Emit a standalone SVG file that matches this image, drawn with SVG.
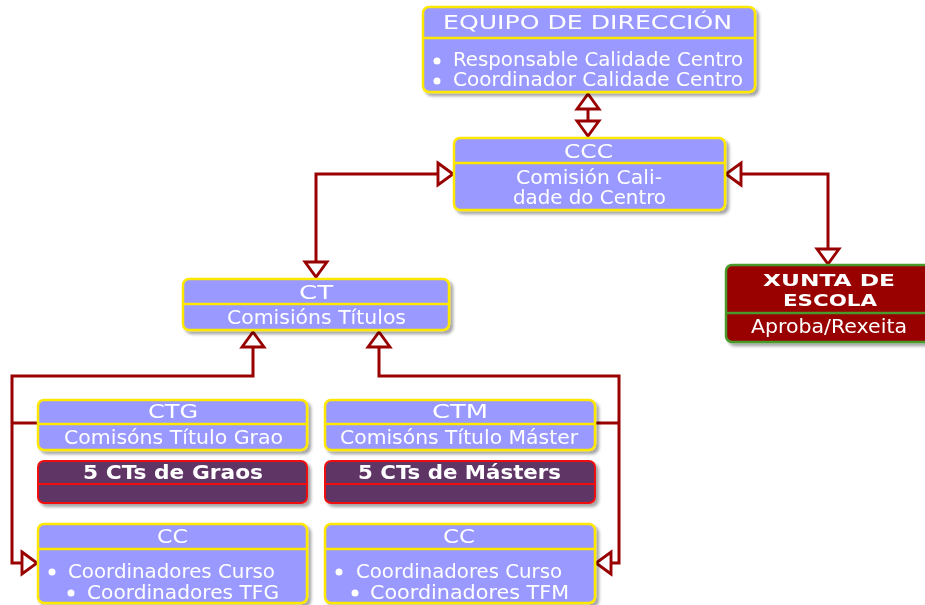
<svg xmlns="http://www.w3.org/2000/svg" width="925" height="605" viewBox="0 0 925 605">
<defs>
<style>
.bb{fill:#9999FF;stroke:#FFE800;stroke-width:2.5}
.pb{fill:#5E3466;stroke:#F01010;stroke-width:2}
.xb{fill:#990000;stroke:#4A9A2C;stroke-width:2.5}
.dy{stroke:#FFE800;stroke-width:2.5}
.dr{stroke:#F01010;stroke-width:2}
.dg{stroke:#4A9A2C;stroke-width:2.5}
text{font-family:"DejaVu Sans","Liberation Sans",sans-serif;font-size:19px;fill:#FFFFFF}
.b{font-weight:bold}
.xt{font-size:16.5px}
.bul{fill:#FFFFFF}
.con{fill:none;stroke:#990000;stroke-width:3}
</style>
<filter id="sh" x="-5%" y="-10%" width="115%" height="130%">
<feDropShadow dx="3" dy="3" stdDeviation="1.5" flood-color="#000" flood-opacity="0.35"/>
</filter>
<marker id="ah" markerUnits="userSpaceOnUse" markerWidth="30" markerHeight="30" viewBox="-3 -13 19 26" refX="13" refY="0" orient="auto-start-reverse">
<path d="M0,-9.5 L13,0 L0,9.5 Z" fill="#FFFFFF" stroke="#990000" stroke-width="2.5"/>
</marker>
</defs>

<g id="connectors">
<path class="con" d="M588,94 L588,136" marker-start="url(#ah)" marker-end="url(#ah)"/>
<path class="con" d="M453,174 L316,174 L316,277" marker-start="url(#ah)" marker-end="url(#ah)"/>
<path class="con" d="M726,174 L828,174 L828,264" marker-start="url(#ah)" marker-end="url(#ah)"/>
<path class="con" d="M253,332 L253,376 L12,376 L12,563 L37,563" marker-start="url(#ah)" marker-end="url(#ah)"/>
<path class="con" d="M12,423 L38,423"/>
<path class="con" d="M379,332 L379,376 L619,376 L619,563 L596,563" marker-start="url(#ah)" marker-end="url(#ah)"/>
<path class="con" d="M619,423 L595,423"/>
</g>

<g id="equipo" filter="url(#sh)">
<rect class="bb" x="423" y="7" width="332" height="85" rx="6"/>
<line class="dy" x1="423" y1="38" x2="755" y2="38"/>
<text x="443" y="29" textLength="289" lengthAdjust="spacingAndGlyphs">EQUIPO DE DIRECCIÓN</text>
<circle class="bul" cx="437" cy="61" r="3.5"/>
<text x="453" y="66" textLength="290" lengthAdjust="spacingAndGlyphs">Responsable Calidade Centro</text>
<circle class="bul" cx="437" cy="81" r="3.5"/>
<text x="453" y="86" textLength="290" lengthAdjust="spacingAndGlyphs">Coordinador Calidade Centro</text>
</g>

<g id="ccc" filter="url(#sh)">
<rect class="bb" x="454" y="138" width="271" height="72" rx="6"/>
<line class="dy" x1="454" y1="163" x2="725" y2="163"/>
<text x="564" y="158" textLength="49" lengthAdjust="spacingAndGlyphs">CCC</text>
<text x="516" y="184" textLength="146" lengthAdjust="spacingAndGlyphs">Comisión Cali-</text>
<text x="513" y="204" textLength="153" lengthAdjust="spacingAndGlyphs">dade do Centro</text>
</g>

<g id="ct" filter="url(#sh)">
<rect class="bb" x="183" y="279" width="266" height="51" rx="6"/>
<line class="dy" x1="183" y1="304" x2="449" y2="304"/>
<text x="299" y="299" textLength="34" lengthAdjust="spacingAndGlyphs">CT</text>
<text x="227" y="324" textLength="179" lengthAdjust="spacingAndGlyphs">Comisións Títulos</text>
</g>

<g id="xunta" filter="url(#sh)">
<rect class="xb" x="726" y="265" width="206" height="77" rx="6"/>
<line class="dg" x1="726" y1="313" x2="932" y2="313"/>
<text class="b xt" x="763" y="286" textLength="132" lengthAdjust="spacingAndGlyphs">XUNTA DE</text>
<text class="b xt" x="783" y="306" textLength="94" lengthAdjust="spacingAndGlyphs">ESCOLA</text>
<text x="751" y="333" textLength="156" lengthAdjust="spacingAndGlyphs">Aproba/Rexeita</text>
</g>

<g id="ctg" filter="url(#sh)">
<rect class="bb" x="38" y="400" width="269" height="50" rx="6"/>
<line class="dy" x1="38" y1="424" x2="307" y2="424"/>
<text x="148" y="418" textLength="50" lengthAdjust="spacingAndGlyphs">CTG</text>
<text x="64" y="444" textLength="219" lengthAdjust="spacingAndGlyphs">Comisóns Título Grao</text>
</g>

<g id="graos" filter="url(#sh)">
<rect class="pb" x="38" y="461" width="269" height="42" rx="6"/>
<line class="dr" x1="38" y1="484" x2="307" y2="484"/>
<text class="b" x="83" y="479" textLength="180" lengthAdjust="spacingAndGlyphs">5 CTs de Graos</text>
</g>

<g id="ctm" filter="url(#sh)">
<rect class="bb" x="325" y="400" width="270" height="50" rx="6"/>
<line class="dy" x1="325" y1="424" x2="595" y2="424"/>
<text x="432" y="418" textLength="56" lengthAdjust="spacingAndGlyphs">CTM</text>
<text x="340" y="444" textLength="238" lengthAdjust="spacingAndGlyphs">Comisóns Título Máster</text>
</g>

<g id="masters" filter="url(#sh)">
<rect class="pb" x="325" y="461" width="270" height="42" rx="6"/>
<line class="dr" x1="325" y1="484" x2="595" y2="484"/>
<text class="b" x="358" y="479" textLength="203" lengthAdjust="spacingAndGlyphs">5 CTs de Másters</text>
</g>

<g id="cc-grao" filter="url(#sh)">
<rect class="bb" x="38" y="524" width="269" height="79" rx="6"/>
<line class="dy" x1="38" y1="549" x2="307" y2="549"/>
<text x="157" y="543" textLength="31" lengthAdjust="spacingAndGlyphs">CC</text>
<circle class="bul" cx="52" cy="572" r="3.5"/>
<text x="68" y="578" textLength="207" lengthAdjust="spacingAndGlyphs">Coordinadores Curso</text>
<circle class="bul" cx="71" cy="593" r="3.5"/>
<text x="87" y="599" textLength="192" lengthAdjust="spacingAndGlyphs">Coordinadores TFG</text>
</g>

<g id="cc-master" filter="url(#sh)">
<rect class="bb" x="325" y="524" width="270" height="79" rx="6"/>
<line class="dy" x1="325" y1="549" x2="595" y2="549"/>
<text x="443" y="543" textLength="32" lengthAdjust="spacingAndGlyphs">CC</text>
<circle class="bul" cx="339" cy="572" r="3.5"/>
<text x="356" y="578" textLength="206" lengthAdjust="spacingAndGlyphs">Coordinadores Curso</text>
<circle class="bul" cx="355" cy="593" r="3.5"/>
<text x="370" y="599" textLength="199" lengthAdjust="spacingAndGlyphs">Coordinadores TFM</text>
</g>
</svg>
